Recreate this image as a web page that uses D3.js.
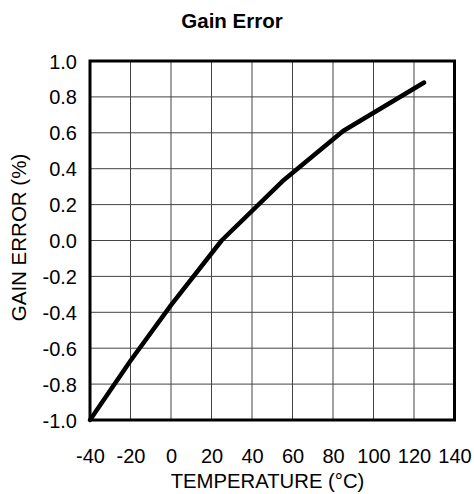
<!DOCTYPE html>
<html><head><meta charset="utf-8">
<script src="https://cdn.jsdelivr.net/npm/d3@7"></script>
<style>body{margin:0;background:#fff;} text{font-family:"Liberation Sans",Arial,sans-serif;fill:#000;}</style>
</head><body>
<svg id="c" width="474" height="494"></svg>
<script>
const temperature = [-40, -20, 0, 25, 55, 85, 105, 125];
const gainError = [-1.0, -0.67, -0.36, 0.0, 0.33, 0.61, 0.745, 0.88];
const xTicks = [-40, -20, 0, 20, 40, 60, 80, 100, 120, 140];
const yTicks = [-1.0, -0.8, -0.6, -0.4, -0.2, 0.0, 0.2, 0.4, 0.6, 0.8, 1.0];

const svg = d3.select("#c");
const L = 90, R = 454.5, T = 61, B = 420;
const x = d3.scaleLinear().domain([-40, 140]).range([L, R]);
const y = d3.scaleLinear().domain([-1, 1]).range([B, T]);

// grid
svg.append("g").selectAll("line").data(xTicks.slice(1, -1)).join("line")
  .attr("x1", d => x(d)).attr("x2", d => x(d)).attr("y1", T).attr("y2", B)
  .attr("stroke", "#444").attr("stroke-width", 1);
svg.append("g").selectAll("line").data(yTicks.slice(1, -1)).join("line")
  .attr("y1", d => y(d)).attr("y2", d => y(d)).attr("x1", L).attr("x2", R)
  .attr("stroke", "#444").attr("stroke-width", 1);

// axes (labels only)
const xAxis = svg.append("g").attr("transform", `translate(0,${B})`)
  .call(d3.axisBottom(x).tickValues(xTicks).tickSize(0).tickPadding(29).tickFormat(d => String(d)));
const yAxis = svg.append("g").attr("transform", `translate(${L},0)`)
  .call(d3.axisLeft(y).tickValues(yTicks).tickSize(0).tickPadding(13).tickFormat(d => d.toFixed(1)));
[xAxis, yAxis].forEach(a => {
  a.select(".domain").remove();
  a.selectAll("text").style("font-size", "20px").style("font-family", "Liberation Sans, Arial, sans-serif").attr("fill", "#000");
});
yAxis.selectAll("text").attr("dy", "0.35em");

// frame
svg.append("rect").attr("x", L).attr("y", T).attr("width", R - L).attr("height", B - T)
  .attr("fill", "none").attr("stroke", "#000").attr("stroke-width", 3);

// line
const line = d3.line().x((d, i) => x(temperature[i])).y(d => y(d));
svg.append("path").datum(gainError).attr("d", line)
  .attr("fill", "none").attr("stroke", "#000").attr("stroke-width", 4.5)
  .attr("stroke-linecap", "round").attr("stroke-linejoin", "round");

// titles
svg.append("text").attr("x", 232).attr("y", 28).attr("text-anchor", "middle")
  .style("font-size", "20.5px").style("font-weight", "bold").text("Gain Error");
svg.append("text").attr("x", 267.5).attr("y", 488).attr("text-anchor", "middle")
  .style("font-size", "20.3px").text("TEMPERATURE (°C)");
svg.append("text").attr("transform", `translate(26,${(T + B) / 2 - 3}) rotate(-90)`)
  .attr("text-anchor", "middle").style("font-size", "20.5px").text("GAIN ERROR (%)");
</script>
</body></html>
